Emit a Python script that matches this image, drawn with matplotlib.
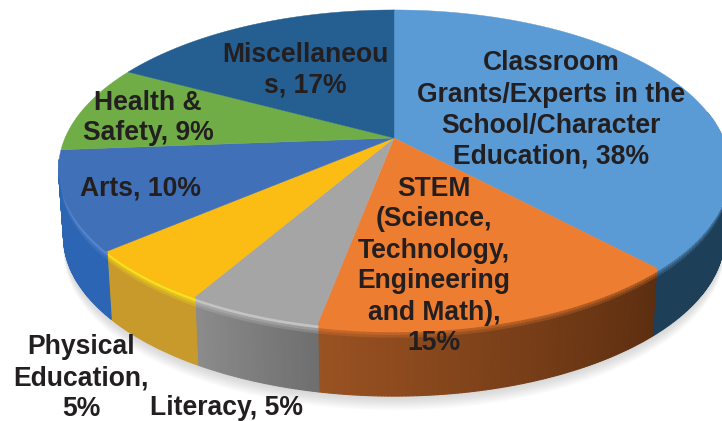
import numpy as np
import matplotlib
matplotlib.use('Agg')
import matplotlib.pyplot as plt
from matplotlib.collections import PolyCollection
from matplotlib.colors import to_rgb

# slices, clockwise from 12 o'clock
labels = ['Classroom\nGrants/Experts in the\nSchool/Character\nEducation, 38%',
          'STEM\n(Science,\nTechnology,\nEngineering\nand Math),\n15%',
          'Literacy, 5%',
          'Physical\nEducation,\n5%',
          'Arts, 10%',
          'Health &\nSafety, 9%',
          'Miscellaneou\ns, 17%']
values = [38, 15, 5.4, 5.4, 10, 9, 17.2]

top_colors = ['#5b9bd5', '#ed7d31', '#a5a5a5', '#fbbc14', '#4070b8', '#70ad47', '#255e91']
rim_colors = ['#5b9bd5', '#ed7d31', '#c4c4c4', '#f8e01c', '#5a86cc', '#70ad47', '#255e91']
wall_start = ['#1e3f58', '#5c2e10', '#6f6f6f', '#c79a2b', '#2b65b3', '#3c6a2a', '#153a5c']
wall_end = ['#1e3f58', '#9a5222', '#8c8c8c', '#c79a2b', '#2b65b3', '#3c6a2a', '#153a5c']
label_xy = [(551, 110), (434, 266), (226, 408), (81, 378), (141, 189), (148, 118), (305, 70)]

# perspective of the pie in picture pixels
cx, cy = 394, 138
A, B, P = 329, 153, 0.195
depth = 68
shrink = 0.985


def project(ang, h=0.0):
    # ang in degrees clockwise from top, h 0 = top face, 1 = bottom face
    a = np.radians(ang)
    u, v = np.sin(a), np.cos(a)
    w = 1 + P * v
    s = 1 + (shrink - 1) * h
    return cx + A * s * u / w, cy - B * v / w + depth * h


def mix(c1, c2, t):
    c1, c2 = np.array(to_rgb(c1)), np.array(to_rgb(c2))
    return tuple(c1 + (c2 - c1) * t)


fig = plt.figure(figsize=(7.22, 4.21), dpi=100)
ax = fig.add_axes([0, 0, 1, 1])
ax.set_xlim(0, 722)
ax.set_ylim(421, 0)
ax.axis('off')

edges = np.concatenate([[0], np.cumsum(values)]) / sum(values) * 360

# soft shadow under the front of the pie
ring = np.linspace(90, 270, 181)
for i in range(14, 0, -1):
    x, y = project(ring, 1.0)
    y = y + i * 1.3 - 4
    ax.fill(x, y, color='#666666', alpha=0.025, lw=0, zorder=1)

# side wall, with a small bevel at the top
rows = [0, 0.03, 0.07, 0.11, 0.15, 1.0]
polys = []
cols = []
for k in range(len(values)):
    steps = np.arange(edges[k], edges[k + 1] + 0.5, 0.5)
    steps[-1] = edges[k + 1]
    for a0, a1 in zip(steps[:-1], steps[1:]):
        # the back of the wall is hidden by the top face anyway
        if a0 < 80 or a0 >= 262:
            continue
        t = (a0 - edges[k]) / (edges[k + 1] - edges[k])
        wall = mix(wall_start[k], wall_end[k], t)
        for r in range(len(rows) - 1):
            x0, y0 = project(a0, rows[r])
            x1, y1 = project(a1, rows[r])
            x2, y2 = project(a1, rows[r + 1])
            x3, y3 = project(a0, rows[r + 1])
            polys.append([(x0, y0), (x1, y1), (x2, y2), (x3, y3)])
            if r == 0:
                cols.append(to_rgb(top_colors[k]))
            elif r == 1:
                cols.append(to_rgb(rim_colors[k]))
            elif r == len(rows) - 2:
                cols.append(wall)
            else:
                cols.append(mix(rim_colors[k], wall, r / (len(rows) - 2)))
ax.add_collection(PolyCollection(polys, facecolors=cols, edgecolors=cols, linewidths=0.8, zorder=2))

# top face
for k in range(len(values)):
    ang = np.arange(edges[k], edges[k + 1] + 0.5, 0.5)
    ang = np.append(ang, edges[k + 1])
    x, y = project(ang)
    ax.fill(np.append(x, cx), np.append(y, cy), color=top_colors[k], lw=0.3, zorder=3)

for k in range(len(values)):
    ax.text(label_xy[k][0], label_xy[k][1], labels[k], ha='center', va='center', multialignment='center',
            fontsize=19.1, fontweight='bold', family='Liberation Sans', color='#231f20',
            linespacing=1.25, zorder=5)

fig.savefig('out.png', dpi=100)
